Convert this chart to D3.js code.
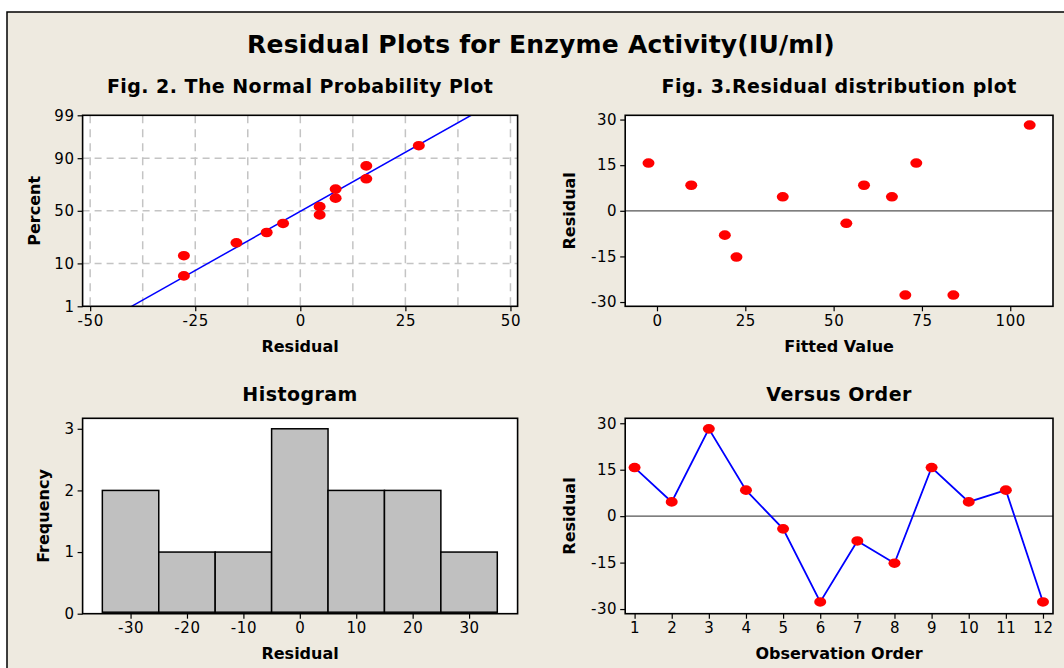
<!DOCTYPE html>
<html><head><meta charset="utf-8">
<script src="https://cdn.jsdelivr.net/npm/d3@7"></script>
<style>
body{margin:0;background:#fff}
svg{display:block}
text{font-family:"DejaVu Sans",Verdana,sans-serif;fill:#000}
</style>
</head><body>
<svg id="c" width="1064" height="668"></svg>
<script>
// ---------------- data ----------------
const mainTitle = "Residual Plots for Enzyme Activity(IU/ml)";
const panelTitles = ["Fig. 2. The Normal Probability Plot", "Fig. 3.Residual distribution plot", "Histogram", "Versus Order"];

const observationOrder = [1,2,3,4,5,6,7,8,9,10,11,12];
const residualsByOrder = [15.7, 4.6, 28.2, 8.4, -4.1, -27.7, -8.0, -15.2, 15.7, 4.6, 8.4, -27.7];

const fittedValues    = [-2.4, 9.7, 19.2, 22.5, 35.6, 53.6, 58.6, 66.5, 70.3, 73.4, 83.9, 105.5];
const fittedResiduals = [15.7, 8.4, -8.0, -15.2, 4.6, -4.1, 8.4, 4.6, -27.7, 15.7, -27.7, 28.2];

const histMidpoints = [-30, -20, -10, 0, 10, 20, 30];
const histCounts    = [2, 1, 1, 3, 2, 2, 1];

const normalXTicks = [-50, -25, 0, 25, 50];
const normalXGrid  = [-50, -37.5, -25, -12.5, 0, 12.5, 25, 37.5, 50];
const percentTicks = [1, 10, 50, 90, 99];
const percentGrid  = [10, 50, 90];
const fitXTicks    = [0, 25, 50, 75, 100];
const residTicks   = [-30, -15, 0, 15, 30];
const histXTicks   = [-30, -20, -10, 0, 10, 20, 30];
const freqTicks    = [0, 1, 2, 3];

// ---------------- helpers ----------------
function probit(p){
  const a=[-3.969683028665376e+01,2.209460984245205e+02,-2.759285104469687e+02,1.383577518672690e+02,-3.066479806614716e+01,2.506628277459239e+00];
  const b=[-5.447609879822406e+01,1.615858368580409e+02,-1.556989798598866e+02,6.680131188771972e+01,-1.328068155288572e+01];
  const c=[-7.784894002430293e-03,-3.223964580411365e-01,-2.400758277161838e+00,-2.549732539343734e+00,4.374664141464968e+00,2.938163982698783e+00];
  const d=[7.784695709041462e-03,3.224671290700398e-01,2.445134137142996e+00,3.754408661907416e+00];
  const pl=0.02425;
  if(p<pl){const q=Math.sqrt(-2*Math.log(p));return (((((c[0]*q+c[1])*q+c[2])*q+c[3])*q+c[4])*q+c[5])/((((d[0]*q+d[1])*q+d[2])*q+d[3])*q+1);}
  if(p>1-pl){const q=Math.sqrt(-2*Math.log(1-p));return -(((((c[0]*q+c[1])*q+c[2])*q+c[3])*q+c[4])*q+c[5])/((((d[0]*q+d[1])*q+d[2])*q+d[3])*q+1);}
  const q=p-0.5,r=q*q;
  return (((((a[0]*r+a[1])*r+a[2])*r+a[3])*r+a[4])*r+a[5])*q/(((((b[0]*r+b[1])*r+b[2])*r+b[3])*r+b[4])*r+1);
}

const svg = d3.select("#c");
const W = 1064, H = 668;
const BG = "#EEEAE0";

svg.append("rect").attr("width", W).attr("height", H).attr("fill", "#fff");
svg.append("rect").attr("x", 7).attr("y", 12).attr("width", W + 20).attr("height", H + 20)
  .attr("fill", BG).attr("stroke", "#000").attr("stroke-width", 1.5);

svg.append("text").attr("x", 541).attr("y", 52.5).attr("text-anchor", "middle")
  .attr("font-size", 25).attr("font-weight", "bold").attr("letter-spacing", 0.2).text(mainTitle);

const boxes = [
  {x: 82.6,  y: 115.3, w: 435,   h: 191,   tOff: 22},
  {x: 625.2, y: 115.3, w: 427.8, h: 191,   tOff: 22},
  {x: 82.6,  y: 418.3, w: 435,   h: 195.4, tOff: 17},
  {x: 625.2, y: 418.3, w: 427.8, h: 195.4, tOff: 17}
];

function setupPanel(i, xScale, yScale, xTicks, yTicks, xFmt, yFmt, xTitle, yTitle, yTitleOffset){
  const b = boxes[i];
  const g = svg.append("g").attr("transform", `translate(${b.x},${b.y})`);
  g.append("rect").attr("width", b.w).attr("height", b.h).attr("fill", "#fff");
  svg.append("text").attr("x", b.x + b.w/2).attr("y", b.y - b.tOff)
    .attr("text-anchor", "middle").attr("font-size", 19).attr("font-weight", "bold")
    .attr("letter-spacing", 0.45).text(panelTitles[i]);
  const xa = g.append("g").attr("transform", `translate(0,${b.h})`)
    .call(d3.axisBottom(xScale).tickValues(xTicks).tickSize(5).tickPadding(4).tickFormat(xFmt));
  const ya = g.append("g")
    .call(d3.axisLeft(yScale).tickValues(yTicks).tickSize(5).tickPadding(3).tickFormat(yFmt));
  [xa, ya].forEach(a => {
    a.select(".domain").remove();
    a.selectAll("line").attr("stroke", "#000").attr("stroke-width", 1.2);
    a.selectAll("text").attr("font-size", 15).attr("letter-spacing", 0.6)
      .attr("font-family", '"DejaVu Sans",Verdana,sans-serif').attr("fill", "#000");
  });
  g.append("text").attr("x", b.w/2).attr("y", b.h + 45.4).attr("text-anchor", "middle")
    .attr("font-size", 16).attr("font-weight", "bold").text(xTitle);
  g.append("text").attr("transform", `translate(${-yTitleOffset},${b.h/2}) rotate(-90)`)
    .attr("text-anchor", "middle").attr("font-size", 16).attr("font-weight", "bold").text(yTitle);
  const clipId = "clip" + i;
  g.append("clipPath").attr("id", clipId).append("rect").attr("width", b.w).attr("height", b.h);
  const inner = g.append("g").attr("clip-path", `url(#${clipId})`);
  return {g, inner, b};
}
function finishPanel(p){
  p.g.append("rect").attr("width", p.b.w).attr("height", p.b.h)
    .attr("fill", "none").attr("stroke", "#000").attr("stroke-width", 1.6);
}
const fmt = d => String(d);   // plain hyphen-minus like the original
const RX = 6, RY = 4.8;

// ---------------- Panel 1: normal probability plot ----------------
{
  const b = boxes[0];
  const x = d3.scaleLinear().domain([-51.8, 51.7]).range([0, b.w]);
  const y = d3.scaleLinear().domain([probit(0.01), probit(0.99)]).range([b.h, 0]);
  const yP = p => y(probit(p/100));
  const yScaleP = v => yP(v);
  yScaleP.copy = () => yScaleP; yScaleP.range = () => [b.h, 0]; yScaleP.domain = () => [1, 99];
  const p = setupPanel(0, x, yScaleP, normalXTicks, percentTicks, fmt, fmt, "Residual", "Percent", 42.6);
  const inner = p.inner;
  inner.selectAll(".gx").data(normalXGrid).join("line")
    .attr("x1", d => x(d)).attr("x2", d => x(d)).attr("y1", 0).attr("y2", b.h)
    .attr("stroke", "#C4C4C4").attr("stroke-width", 1.5).attr("stroke-dasharray", "8,6");
  inner.selectAll(".gy").data(percentGrid).join("line")
    .attr("y1", d => yP(d)).attr("y2", d => yP(d)).attr("x1", 0).attr("x2", b.w)
    .attr("stroke", "#C4C4C4").attr("stroke-width", 1.5).attr("stroke-dasharray", "7,5");
  const sorted = residualsByOrder.slice().sort((a, c) => a - c);
  const n = sorted.length;
  const mean = d3.mean(sorted), sd = d3.deviation(sorted);
  const zLo = probit(0.01), zHi = probit(0.99);
  inner.append("line")
    .attr("x1", x(mean + sd * zLo)).attr("y1", y(zLo))
    .attr("x2", x(mean + sd * zHi)).attr("y2", y(zHi))
    .attr("stroke", "#0000FF").attr("stroke-width", 1.5);
  inner.selectAll(".pt").data(sorted).join("ellipse")
    .attr("cx", d => x(d)).attr("cy", (d, i) => y(probit((i + 1 - 0.3) / (n + 0.4))))
    .attr("rx", RX).attr("ry", RY).attr("fill", "#FF0000");
  finishPanel(p);
}

// ---------------- Panel 2: residual vs fitted ----------------
{
  const b = boxes[1];
  const x = d3.scaleLinear().domain([-9.0, 112.1]).range([0, b.w]);
  const y = d3.scaleLinear().domain([-31.4, 31.4]).range([b.h, 0]);
  const p = setupPanel(1, x, y, fitXTicks, residTicks, fmt, fmt, "Fitted Value", "Residual", 50.2);
  p.inner.append("line").attr("x1", 0).attr("x2", b.w).attr("y1", y(0)).attr("y2", y(0))
    .attr("stroke", "#555").attr("stroke-width", 1.3);
  p.inner.selectAll(".pt").data(fittedValues).join("ellipse")
    .attr("cx", d => x(d)).attr("cy", (d, i) => y(fittedResiduals[i]))
    .attr("rx", RX).attr("ry", RY).attr("fill", "#FF0000");
  finishPanel(p);
}

// ---------------- Panel 3: histogram ----------------
{
  const b = boxes[2];
  const x = d3.scaleLinear().domain([-38.5, 38.6]).range([0, b.w]);
  const y = d3.scaleLinear().domain([0, 3.17]).range([b.h, 0]);
  const p = setupPanel(2, x, y, histXTicks, freqTicks, fmt, fmt, "Residual", "Frequency", 34);
  p.inner.selectAll(".bar").data(histMidpoints).join("rect")
    .attr("x", d => x(d - 5)).attr("width", d => x(d + 5) - x(d - 5))
    .attr("y", (d, i) => y(histCounts[i])).attr("height", (d, i) => y(0) - y(histCounts[i]) - 1.5)
    .attr("fill", "#C0C0C0").attr("stroke", "#000").attr("stroke-width", 1.5);
  finishPanel(p);
}

// ---------------- Panel 4: versus order ----------------
{
  const b = boxes[3];
  const x = d3.scaleLinear().domain([0.747, 12.27]).range([0, b.w]);
  const y = d3.scaleLinear().domain([-31.5, 31.6]).range([b.h, 0]);
  const p = setupPanel(3, x, y, observationOrder, residTicks, fmt, fmt, "Observation Order", "Residual", 50.2);
  p.inner.append("line").attr("x1", 0).attr("x2", b.w).attr("y1", y(0)).attr("y2", y(0))
    .attr("stroke", "#555").attr("stroke-width", 1.3);
  p.inner.append("path").datum(observationOrder)
    .attr("d", d3.line().x(d => x(d)).y((d, i) => y(residualsByOrder[i])))
    .attr("fill", "none").attr("stroke", "#0000FF").attr("stroke-width", 1.8);
  p.inner.selectAll(".pt").data(observationOrder).join("ellipse")
    .attr("cx", d => x(d)).attr("cy", (d, i) => y(residualsByOrder[i]))
    .attr("rx", RX).attr("ry", RY).attr("fill", "#FF0000");
  finishPanel(p);
}
</script>
</body></html>
